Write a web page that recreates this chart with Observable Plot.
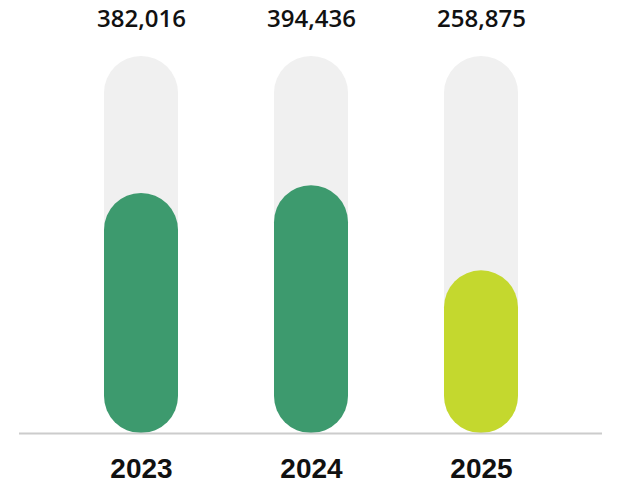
<!DOCTYPE html>
<html>
<head>
<meta charset="utf-8">
<script src="https://cdn.jsdelivr.net/npm/d3@7"></script>
<script src="https://cdn.jsdelivr.net/npm/@observablehq/plot@0.6"></script>
<style>
  html, body { margin: 0; padding: 0; background: #fff; }
</style>
</head>
<body>
<div id="chart"></div>
<script>
const years = ["2023", "2024", "2025"];
const values = [382016, 394436, 258875];
const colors = ["#3d9a6e", "#3d9a6e", "#c4d82e"];
const maxValue = 600000;

const data = years.map((year, i) => ({year, value: values[i], color: colors[i], max: maxValue}));

const chart = Plot.plot({
  width: 623,
  height: 500,
  marginTop: 56,
  marginBottom: 67,
  marginLeft: 19,
  marginRight: 21,
  style: {background: "#fff"},
  x: {domain: years, paddingInner: 0.565, paddingOuter: 0.497},
  y: {domain: [0, maxValue], axis: null},
  marks: [
    Plot.barY(data, {x: "year", y: "max", fill: "#f0f0f0", rx: 37}),
    Plot.barY(data, {x: "year", y: "value", fill: "color", rx: 37}),
    Plot.ruleY([0], {stroke: "#cccccc", strokeWidth: 2}),
    Plot.text(data, {
      x: "year", y: "max", text: d => d3.format(",")(d.value),
      dy: -37.5, lineAnchor: "middle",
      fontSize: 24, fontWeight: 600, fontFamily: "Open Sans", fill: "#111"
    }),
    Plot.axisX({
      tickSize: 0, tickPadding: 25, label: null,
      fontSize: 28, fontWeight: "bold", fontFamily: "Liberation Sans, Arial, sans-serif", fill: "#111"
    })
  ]
});
document.getElementById("chart").appendChild(chart);
</script>
</body>
</html>
